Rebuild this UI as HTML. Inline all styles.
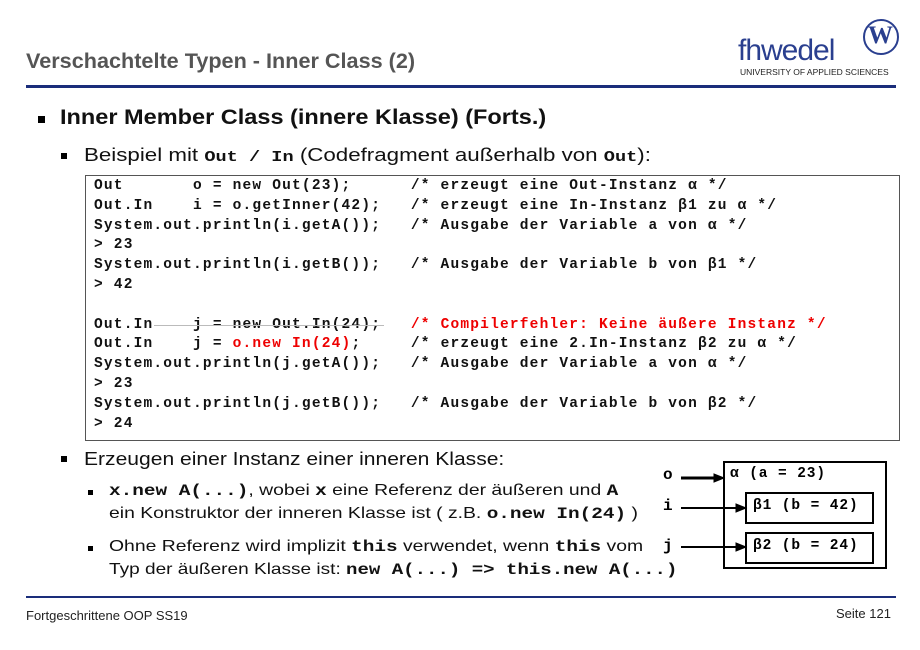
<!DOCTYPE html>
<html><head><meta charset="utf-8"><style>
body{margin:0;width:920px;height:650px;background:#fff;position:relative;font-family:"Liberation Sans",Arial,sans-serif;overflow:hidden}
.a{position:absolute;white-space:pre;transform-origin:0 0}
.m{font-family:"Liberation Mono","Courier New",monospace;font-weight:bold}
.code{position:absolute;left:85px;top:175px;width:813px;height:264px;border:1px solid #555}
.cl{position:absolute;left:8px;font-family:"Liberation Mono",monospace;font-weight:bold;font-size:14.5px;letter-spacing:1.2px;white-space:pre;color:#111}
.r{color:#e00}
.bx{position:absolute;border:2px solid #000}
.sq{position:absolute;background:#000}
</style></head><body>
<div class="a" style="left:26px;top:50px;font-size:21px;font-weight:bold;color:#555;transform:scaleX(1.03)">Verschachtelte Typen - Inner Class (2)</div>
<div class="a" style="left:738px;top:34px;font-size:30px;color:#2a3f8f;letter-spacing:-1px">fhwedel</div>
<div class="a" style="left:740px;top:67px;font-size:8.5px;color:#222">UNIVERSITY OF APPLIED SCIENCES</div>
<div style="position:absolute;left:863px;top:19px;width:32px;height:32px;border:2px solid #2a3f8f;border-radius:50%"></div>
<div class="a" style="left:868px;top:22px;font-size:25px;font-weight:bold;font-family:'Liberation Serif',serif;color:#2a3f8f">W</div>
<div style="position:absolute;left:26px;top:85px;width:870px;height:3px;background:#1a2d7a"></div>

<div class="sq" style="left:38px;top:116px;width:7px;height:7px"></div>
<div class="a" style="left:60px;top:106px;font-size:21px;font-weight:bold;color:#111;transform:scaleX(1.12)">Inner Member Class (innere Klasse) (Forts.)</div>
<div class="sq" style="left:61px;top:153px;width:6px;height:6px"></div>
<div class="a" style="left:84px;top:145px;font-size:18px;color:#111;transform:scaleX(1.24)">Beispiel mit <span class="m" style="font-size:15px">Out / In</span> (Codefragment außerhalb von <span class="m" style="font-size:15px">Out</span>):</div>

<div class="code">
<div class="cl" style="top:2px">Out       o = new Out(23);      /* erzeugt eine Out-Instanz α */</div>
<div class="cl" style="top:22px">Out.In    i = o.getInner(42);   /* erzeugt eine In-Instanz β1 zu α */</div>
<div class="cl" style="top:42px">System.out.println(i.getA());   /* Ausgabe der Variable a von α */</div>
<div class="cl" style="top:61px">&gt; 23</div>
<div class="cl" style="top:81px">System.out.println(i.getB());   /* Ausgabe der Variable b von β1 */</div>
<div class="cl" style="top:101px">&gt; 42</div>
<div class="cl" style="top:141px">Out.In    j = new Out.In(24);   <span class="r">/* Compilerfehler: Keine äußere Instanz */</span></div>
<div style="position:absolute;left:68px;top:149px;width:230px;height:1px;background:#bbb"></div>
<div class="cl" style="top:160px">Out.In    j = <span class="r">o.new In(24)</span>;     /* erzeugt eine 2.In-Instanz β2 zu α */</div>
<div class="cl" style="top:180px">System.out.println(j.getA());   /* Ausgabe der Variable a von α */</div>
<div class="cl" style="top:200px">&gt; 23</div>
<div class="cl" style="top:220px">System.out.println(j.getB());   /* Ausgabe der Variable b von β2 */</div>
<div class="cl" style="top:240px">&gt; 24</div>
</div>

<div class="sq" style="left:61px;top:456px;width:6px;height:6px"></div>
<div class="a" style="left:84px;top:449px;font-size:18px;color:#111;transform:scaleX(1.17)">Erzeugen einer Instanz einer inneren Klasse:</div>
<div class="sq" style="left:88px;top:490px;width:5px;height:5px"></div>
<div class="a" style="left:109px;top:482px;font-size:16px;color:#111;transform:scaleX(1.21)"><span class="m">x.new A(...)</span>, wobei <span class="m">x</span> eine Referenz der äußeren und <span class="m">A</span></div>
<div class="a" style="left:109px;top:505px;font-size:16px;color:#111;transform:scaleX(1.21)">ein Konstruktor der inneren Klasse ist ( z.B. <span class="m">o.new In(24)</span> )</div>
<div class="sq" style="left:88px;top:546px;width:5px;height:5px"></div>
<div class="a" style="left:109px;top:538px;font-size:16px;color:#111;transform:scaleX(1.21)">Ohne Referenz wird implizit <span class="m">this</span> verwendet, wenn <span class="m">this</span> vom</div>
<div class="a" style="left:109px;top:561px;font-size:16px;color:#111;transform:scaleX(1.19)">Typ der äußeren Klasse ist: <span class="m">new A(...) =&gt; this.new A(...)</span></div>

<div class="bx" style="left:723px;top:461px;width:160px;height:104px"></div>
<div class="bx" style="left:745px;top:492px;width:125px;height:28px"></div>
<div class="bx" style="left:745px;top:532px;width:125px;height:28px"></div>
<div class="a m" style="left:730px;top:466px;font-size:14.5px;letter-spacing:0.9px">α (a = 23)</div>
<div class="a m" style="left:753px;top:498px;font-size:14.5px;letter-spacing:0.9px">β1 (b = 42)</div>
<div class="a m" style="left:753px;top:538px;font-size:14.5px;letter-spacing:0.9px">β2 (b = 24)</div>
<div class="a m" style="left:663px;top:466px;font-size:16px">o</div>
<div class="a m" style="left:663px;top:497px;font-size:16px">i</div>
<div class="a m" style="left:663px;top:537px;font-size:16px">j</div>
<svg style="position:absolute;left:0;top:0" width="920" height="650">
<g stroke="#000" fill="#000">
<line x1="681" y1="478" x2="716" y2="478" stroke-width="3"/><polygon points="724,478 714,474 714,482"/>
<line x1="681" y1="508" x2="738" y2="508" stroke-width="2"/><polygon points="746,508 736,504 736,512"/>
<line x1="681" y1="547" x2="738" y2="547" stroke-width="2"/><polygon points="746,547 736,543 736,551"/>
</g></svg>

<div style="position:absolute;left:26px;top:596px;width:870px;height:2px;background:#1a2d7a"></div>
<div class="a" style="left:26px;top:608px;font-size:13px;color:#222">Fortgeschrittene OOP SS19</div>
<div class="a" style="left:836px;top:606px;font-size:13px;color:#222">Seite 121</div>
</body></html>
